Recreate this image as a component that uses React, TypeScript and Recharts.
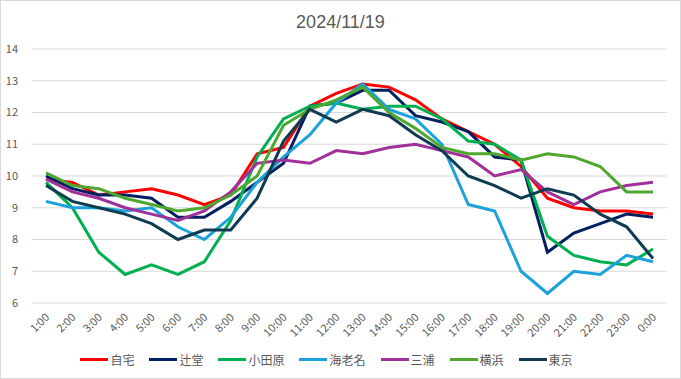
import React from "react";
import { LineChart, Line, XAxis, YAxis, CartesianGrid, Legend } from "recharts";

const hours = [
  "1:00", "2:00", "3:00", "4:00", "5:00", "6:00", "7:00", "8:00", "9:00", "10:00", "11:00", "12:00",
  "13:00", "14:00", "15:00", "16:00", "17:00", "18:00", "19:00", "20:00", "21:00", "22:00", "23:00", "0:00",
];

const jitaku = [9.9, 9.8, 9.4, 9.5, 9.6, 9.4, 9.1, 9.4, 10.7, 10.9, 12.2, 12.6, 12.9, 12.8, 12.4, 11.8, 11.4, 11.0, 10.3, 9.3, 9.0, 8.9, 8.9, 8.8];
const tsujido = [10.0, 9.6, 9.4, 9.4, 9.3, 8.7, 8.7, 9.2, 9.8, 10.4, 12.2, 12.3, 12.7, 12.7, 11.9, 11.7, 11.4, 10.6, 10.5, 7.6, 8.2, 8.5, 8.8, 8.7];
const odawara = [9.8, 9.0, 7.6, 6.9, 7.2, 6.9, 7.3, 8.6, 10.6, 11.8, 12.2, 12.3, 12.1, 12.2, 12.2, 11.8, 11.1, 11.0, 10.5, 8.1, 7.5, 7.3, 7.2, 7.7];
const ebina = [9.2, 9.0, 9.0, 8.9, 9.0, 8.4, 8.0, 8.7, 9.8, 10.6, 11.3, 12.3, 12.9, 12.1, 11.8, 11.0, 9.1, 8.9, 7.0, 6.3, 7.0, 6.9, 7.5, 7.3];
const miura = [9.9, 9.5, 9.3, 9.0, 8.8, 8.6, 8.9, 9.5, 10.4, 10.5, 10.4, 10.8, 10.7, 10.9, 11.0, 10.8, 10.6, 10.0, 10.2, 9.5, 9.1, 9.5, 9.7, 9.8];
const yokohama = [10.1, 9.7, 9.6, 9.3, 9.1, 8.9, 9.0, 9.4, 10.0, 11.6, 12.1, 12.4, 12.8, 12.0, 11.5, 10.9, 10.7, 10.7, 10.5, 10.7, 10.6, 10.3, 9.5, 9.5];
const tokyo = [9.7, 9.2, 9.0, 8.8, 8.5, 8.0, 8.3, 8.3, 9.3, 11.1, 12.1, 11.7, 12.1, 11.9, 11.3, 10.8, 10.0, 9.7, 9.3, 9.6, 9.4, 8.8, 8.4, 7.4];

const yTicks = [6, 7, 8, 9, 10, 11, 12, 13, 14];

const series = [
  { name: "自宅", values: jitaku, color: "#ff0000" },
  { name: "辻堂", values: tsujido, color: "#002060" },
  { name: "小田原", values: odawara, color: "#00b050" },
  { name: "海老名", values: ebina, color: "#1ba1dc" },
  { name: "三浦", values: miura, color: "#a0309a" },
  { name: "横浜", values: yokohama, color: "#4ea72e" },
  { name: "東京", values: tokyo, color: "#0f3c50" },
];

const data = hours.map((h, i) => {
  const row: Record<string, string | number> = { hour: h };
  series.forEach((s) => {
    row[s.name] = s.values[i];
  });
  return row;
});

const font = "'Noto Sans CJK JP', 'Noto Sans', sans-serif";

const XTick = (props: any) => {
  const { x, y, payload } = props;
  return (
    <g transform={`translate(${x + 4},${y + 15})`}>
      <text x={0} y={0} textAnchor="end" transform="rotate(-45)" fill="#595959" fontSize={11} fontFamily={font}>
        {payload.value}
      </text>
    </g>
  );
};

const renderLegend = () => (
  <div style={{ display: "flex", justifyContent: "center", alignItems: "center", height: 18, fontFamily: font, fontSize: 12, color: "#595959" }}>
    {series.map((s) => (
      <div key={s.name} style={{ display: "flex", alignItems: "center", marginRight: 15 }}>
        <span style={{ display: "inline-block", width: 28, height: 3, background: s.color, marginRight: 2 }} />
        <span>{s.name}</span>
      </div>
    ))}
  </div>
);

export default function App() {
  return (
    <div style={{ position: "relative", width: 681, height: 379, boxSizing: "border-box", border: "1px solid #d9d9d9", background: "#fff" }}>
      <style>{`body{margin:0}`}</style>
      <div style={{ position: "absolute", top: 11, left: 0, width: 679, textAlign: "center", fontFamily: "'Liberation Sans', Arial, sans-serif", fontSize: 18, color: "#595959" }}>
        2024/11/19
      </div>
      <LineChart width={679} height={377} data={data} margin={{ top: 48, right: 13, left: 0, bottom: 0 }}>
        <CartesianGrid vertical={false} stroke="#d9d9d9" />
        <XAxis
          dataKey="hour"
          interval={0}
          tick={<XTick />}
          tickLine={false}
          axisLine={false}
          tickSize={0}
          tickMargin={0}
          height={57}
          padding={{ left: 14, right: 14 }}
        />
        <YAxis
          domain={[6, 14]}
          ticks={yTicks}
          width={31}
          axisLine={false}
          tickLine={false}
          tickMargin={8}
          tick={{ fill: "#595959", fontSize: 11, fontFamily: font }}
        />
        <Legend verticalAlign="bottom" content={renderLegend} wrapperStyle={{ bottom: 10, height: 18 }} />
        {series.map((s) => (
          <Line
            key={s.name}
            dataKey={s.name}
            stroke={s.color}
            strokeWidth={3}
            dot={false}
            type="linear"
            isAnimationActive={false}
          />
        ))}
      </LineChart>
    </div>
  );
}
